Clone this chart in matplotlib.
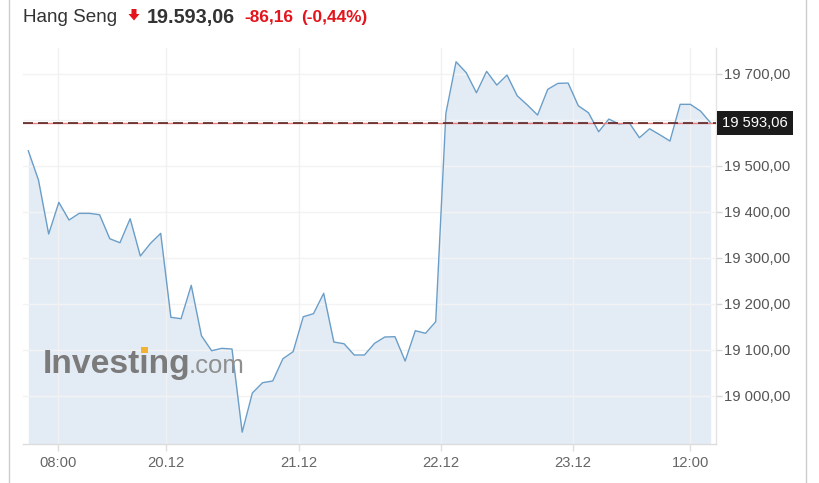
import matplotlib
matplotlib.use("Agg")
import matplotlib.pyplot as plt
from matplotlib.patches import Polygon, Rectangle
from matplotlib.lines import Line2D
from matplotlib.ticker import FuncFormatter, FixedLocator

# ---------------- data ----------------
title = "Hang Seng"
last_text = "19.593,06"
change_text = "-86,16"
pct_text = "(-0,44%)"
last_value = 19593.06

values = [19532.6, 19468.9, 19351.5, 19420.4, 19382.0, 19396.5, 19396.5, 19393.5, 19341.3, 19332.6,
          19384.8, 19303.7, 19331.3, 19353.0, 19170.4, 19167.4, 19240.0, 19130.4, 19097.8, 19103.0,
          19101.5, 18920.7, 19005.9, 19028.3, 19032.0, 19080.4, 19095.7, 19171.7, 19178.3, 19222.6,
          19116.7, 19113.0, 19088.5, 19088.5, 19113.9, 19127.6, 19128.3, 19075.4, 19141.3, 19135.7,
          19160.9, 19613.9, 19726.1, 19702.2, 19658.7, 19705.2, 19675.4, 19697.2, 19652.2, 19632.0,
          19610.2, 19666.1, 19679.1, 19679.8, 19630.4, 19615.2, 19573.9, 19601.5, 19590.7, 19593.5,
          19560.9, 19580.4, 19567.4, 19553.7, 19633.5, 19633.5, 19618.9, 19593.06]
x_idx = list(range(len(values)))

xtick_pos = [2.95, 13.5, 26.6, 40.5, 53.5, 65.0]
xtick_labels = ["08:00", "20.12", "21.12", "22.12", "23.12", "12:00"]
ytick_vals = [19000, 19100, 19200, 19300, 19400, 19500, 19600, 19700]
ytick_shown = [19000, 19100, 19200, 19300, 19400, 19500, 19700]

# ---------------- figure ----------------
W, H = 820, 483
plt.rcParams["font.family"] = ["Liberation Sans", "DejaVu Sans"]
fig = plt.figure(figsize=(W / 100, H / 100), dpi=100)
fig.patch.set_facecolor("white")

def fx(x):
    return x / W

def fy(y):
    return 1 - y / H

L, R, T, B = 23, 716, 48, 444
ax = fig.add_axes([fx(L), fy(B), (R - L) / W, (B - T) / H])
ax.set_facecolor("none")

line_col = "#6a9ec8"
fill_col = "#e3ecf5"
ax.fill_between(x_idx, values, 18800, color=fill_col, zorder=1, linewidth=0)
ax.plot(x_idx, values, color=line_col, linewidth=1.0, zorder=4)

ax.set_xlim(-0.52, 67.52)
ax.set_ylim(18895, 19756)

# grid
for v in ytick_vals:
    ax.axhline(v, color="#f3f3f3", linewidth=1.0, zorder=2)
for xp in xtick_pos:
    ax.axvline(xp, color="#f1f1f1", linewidth=1.0, zorder=2)

# last price reference line
ax.axhline(last_value, color="#e88080", linewidth=1.0, zorder=5)
ax.axhline(last_value, color="#5a2828", linewidth=1.2, linestyle=(0, (6, 3)), zorder=6)

# spines
for s in ["top", "left"]:
    ax.spines[s].set_visible(False)
ax.spines["bottom"].set_color("#dcdcdc")
ax.spines["right"].set_color("#e4e4e4")
ax.spines["bottom"].set_linewidth(1.0)
ax.spines["right"].set_linewidth(1.0)

ax.yaxis.tick_right()
ax.yaxis.set_major_locator(FixedLocator(ytick_shown))
ax.yaxis.set_major_formatter(FuncFormatter(
    lambda v, p: f"{v:,.2f}".replace(",", " ").replace(".", ",")))
ax.xaxis.set_major_locator(FixedLocator(xtick_pos))
ax.set_xticklabels(xtick_labels)
ax.tick_params(axis="y", length=4, width=1, color="#d8d8d8", pad=2,
               labelsize=10.6, labelcolor="#555555")
ax.tick_params(axis="x", length=5, width=1, color="#e0e0e0", pad=3.5,
               labelsize=10.6, labelcolor="#666666")

# last value label box
lbl = f"{last_value:,.2f}".replace(",", " ").replace(".", ",")
ax.text(1.0 + 6.0 / (R - L), last_value, lbl, transform=ax.get_yaxis_transform(),
        ha="left", va="center", color="white", fontsize=10.6,
        bbox=dict(boxstyle="square,pad=0.36", fc="#1b1b1b", ec="none"),
        zorder=10, clip_on=False)

# logo
renderer = fig.canvas.get_renderer()
logo_x, logo_base, logo_fs = 42.5, 373, 24.2

def text_right(s):
    t = fig.text(fx(logo_x), fy(logo_base), s, fontsize=logo_fs, fontweight="bold",
                 ha="left", va="baseline")
    x1 = t.get_window_extent(renderer).x1
    t.remove()
    return x1

x_invest = text_right("Invest")
x_investi = text_right("Investi")
x_full = text_right("Investing")
fig.text(fx(logo_x), fy(logo_base), "Investing", fontsize=logo_fs, fontweight="bold",
         color="#7b7b7b", ha="left", va="baseline", zorder=7)
i_center = (x_invest + x_investi) / 2
fig.patches.append(Rectangle(((i_center - 3.5) / W, fy(353)), 7 / W, 6.5 / H,
                             transform=fig.transFigure, fc="#f2b233", ec="none",
                             zorder=8))
fig.text((x_full - 1) / W, fy(logo_base), ".com", fontsize=18.5, color="#8f8f8f",
         ha="left", va="baseline", zorder=7)

# header
fig.text(fx(23), fy(22), title, fontsize=13.6, color="#333333",
         ha="left", va="baseline")
arrow = [(131.5, 9), (136.5, 9), (136.5, 14), (139.5, 14), (134, 20.5),
         (128.5, 14), (131.5, 14)]
fig.patches.append(Polygon([(fx(a), fy(b)) for a, b in arrow], closed=True,
                           transform=fig.transFigure, fc="#e3141c", ec="none"))
fig.text(fx(147), fy(22.5), last_text, fontsize=14.2, fontweight="bold",
         color="#333333", ha="left", va="baseline")
fig.text(fx(244), fy(22), change_text, fontsize=12.4, fontweight="bold",
         color="#e3141c", ha="left", va="baseline")
fig.text(fx(301), fy(22), pct_text, fontsize=12.4, fontweight="bold",
         color="#e3141c", ha="left", va="baseline")

# widget borders
fig.add_artist(Line2D([fx(9.5), fx(9.5)], [0, 1], color="#cccccc", linewidth=1.0))
fig.add_artist(Line2D([fx(806.5), fx(806.5)], [0, 1], color="#cccccc", linewidth=1.0))

fig.savefig("out.png", dpi=100)
